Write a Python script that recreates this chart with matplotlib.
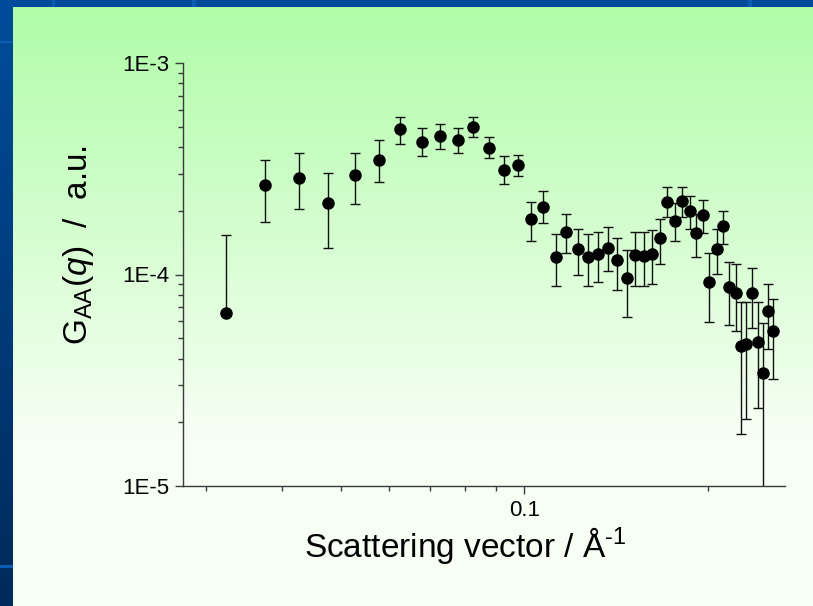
import numpy as np
import matplotlib
matplotlib.use("Agg")
import matplotlib.pyplot as plt
from matplotlib.patches import Rectangle
from matplotlib.ticker import FixedLocator, FixedFormatter, NullFormatter

# scattering vector q (1/A) and G_AA(q) with error bar bounds
q = [0.0324, 0.0375, 0.0427, 0.0475, 0.0527, 0.0577, 0.0625, 0.0678, 0.0726, 0.0777,
     0.0825, 0.0876, 0.0927, 0.0976, 0.1027, 0.1075, 0.1127, 0.1172, 0.1226, 0.1274,
     0.1322, 0.1374, 0.1422, 0.1472, 0.1521, 0.1571, 0.1622, 0.1672, 0.1717, 0.1767,
     0.1815, 0.1871, 0.1917, 0.1968, 0.2013, 0.2075, 0.2122, 0.2168, 0.2223, 0.2266,
     0.2315, 0.2368, 0.2419, 0.2463, 0.2516, 0.2565]
g = [6.56e-5, 2.65e-4, 2.87e-4, 2.18e-4, 2.95e-4, 3.48e-4, 4.86e-4, 4.25e-4, 4.50e-4, 4.32e-4,
     4.97e-4, 3.95e-4, 3.13e-4, 3.29e-4, 1.83e-4, 2.09e-4, 1.21e-4, 1.59e-4, 1.32e-4, 1.21e-4,
     1.25e-4, 1.34e-4, 1.17e-4, 9.63e-5, 1.23e-4, 1.22e-4, 1.25e-4, 1.48e-4, 2.20e-4, 1.80e-4,
     2.23e-4, 2.00e-4, 1.57e-4, 1.91e-4, 9.21e-5, 1.32e-4, 1.69e-4, 8.76e-5, 8.15e-5, 4.59e-5,
     4.68e-5, 8.15e-5, 4.81e-5, 3.41e-5, 6.72e-5, 5.42e-5]
g_hi = [1.53e-4, 3.48e-4, 3.75e-4, 3.03e-4, 3.75e-4, 4.32e-4, 5.54e-4, 4.94e-4, 5.13e-4, 4.94e-4,
        5.54e-4, 4.47e-4, 3.62e-4, 3.67e-4, 2.21e-4, 2.48e-4, 1.56e-4, 1.94e-4, 1.65e-4, 1.56e-4,
        1.58e-4, 1.68e-4, 1.49e-4, 1.30e-4, 1.58e-4, 1.58e-4, 1.62e-4, 1.82e-4, 2.59e-4, 2.17e-4,
        2.59e-4, 2.35e-4, 1.94e-4, 2.25e-4, 1.26e-4, 1.65e-4, 2.00e-4, 1.15e-4, 1.12e-4, 7.39e-5,
        7.39e-5, 1.07e-4, 7.39e-5, 5.88e-5, 8.99e-5, 7.66e-5]
g_lo = [6.56e-5, 1.78e-4, 2.04e-4, 1.33e-4, 2.16e-4, 2.74e-4, 4.13e-4, 3.62e-4, 3.92e-4, 3.75e-4,
        4.45e-4, 3.55e-4, 2.69e-4, 2.92e-4, 1.44e-4, 1.75e-4, 8.82e-5, 1.27e-4, 9.91e-5, 8.82e-5,
        9.18e-5, 1.04e-4, 8.45e-5, 6.32e-5, 8.82e-5, 8.82e-5, 8.99e-5, 1.12e-4, 1.86e-4, 1.44e-4,
        1.86e-4, 1.65e-4, 1.21e-4, 1.57e-4, 5.96e-5, 1.01e-4, 1.39e-4, 5.75e-5, 5.40e-5, 1.76e-5,
        2.07e-5, 5.60e-5, 2.35e-5, 9.4e-6, 4.44e-5, 3.19e-5]

x_minor = [0.03, 0.04, 0.05, 0.06, 0.07, 0.08, 0.09, 0.2]
y_major = [1e-5, 1e-4, 1e-3]
y_labels = ['1E-5', '1E-4', '1E-3']

plt.rcParams['font.family'] = ['Liberation Sans', 'DejaVu Sans']
plt.rcParams['mathtext.fontset'] = 'custom'
plt.rcParams['mathtext.rm'] = 'Liberation Sans'
plt.rcParams['mathtext.it'] = 'Liberation Sans:italic'

W, H = 813, 606
fig = plt.figure(figsize=(W / 100, H / 100), dpi=100)

# slide background: blue with a green gradient panel
bg = fig.add_axes([0, 0, 1, 1], zorder=-10)
bg.axis('off')
t = np.linspace(0, 1, 200)[:, None]
blue = np.array([0.0, 0.30, 0.61]) * (1 - t) + np.array([0.0, 0.165, 0.355]) * t
bg.imshow(blue[:, None, :], extent=(0, W, H, 0), aspect='auto')
for (x0, y0, w, h) in [(0, 41, 13, 2), (0, 565, 13, 3), (52, 0, 3, 7), (192, 0, 4, 7), (748, 0, 4, 7)]:
    bg.add_patch(Rectangle((x0, y0), w, h, color='#0a5cb5', lw=0))
tg = np.clip(t / 0.72, 0, 1)
green = np.array([0.69, 0.99, 0.66]) * (1 - tg) + np.array([0.97, 1.0, 0.96]) * tg
bg.imshow(green[:, None, :], extent=(13, W, H, 7), aspect='auto')
bg.set_xlim(0, W)
bg.set_ylim(H, 0)

ax = fig.add_axes([183 / W, 1 - 486 / H, 602 / W, 423 / H])
ax.set_facecolor('none')
ax.set_xscale('log')
ax.set_yscale('log')

yerr = [np.array(g) - np.array(g_lo), np.array(g_hi) - np.array(g)]
ax.errorbar(q, g, yerr=yerr, fmt='o', color='black', ms=8, mec='black',
            ecolor='#111111', elinewidth=1.0, capsize=3.5, capthick=1.0)

ax.set_xlim(0.0275, 0.268)
ax.set_ylim(1e-5, 1e-3)

ax.xaxis.set_major_locator(FixedLocator([0.1]))
ax.xaxis.set_major_formatter(FixedFormatter(['0.1']))
ax.xaxis.set_minor_locator(FixedLocator(x_minor))
ax.xaxis.set_minor_formatter(NullFormatter())
ax.yaxis.set_major_locator(FixedLocator(y_major))
ax.yaxis.set_major_formatter(FixedFormatter(y_labels))
minor_y = [m * d for d in (1e-5, 1e-4) for m in range(2, 10)]
ax.yaxis.set_minor_locator(FixedLocator(minor_y))
ax.yaxis.set_minor_formatter(NullFormatter())

for side in ['top', 'right']:
    ax.spines[side].set_visible(False)
for side in ['left', 'bottom']:
    ax.spines[side].set_color('#3a3a3a')
    ax.spines[side].set_linewidth(1.0)
ax.tick_params(which='major', direction='out', length=6, width=1.0, color='#3a3a3a',
               labelsize=16, pad=4)
ax.tick_params(which='minor', direction='out', length=3.3, width=1.0, color='#3a3a3a')

fig.text(465 / W, 1 - 545 / H, 'Scattering vector / Å$^{\\text{-1}}$',
         ha='center', va='center', fontsize=24)
fig.text(79 / W, 1 - 245 / H, 'G$_{\\mathrm{AA}}$($\\mathit{q}$)  /  a.u.',
         ha='center', va='center', rotation=90, fontsize=24)

fig.savefig('out.png', dpi=100)
